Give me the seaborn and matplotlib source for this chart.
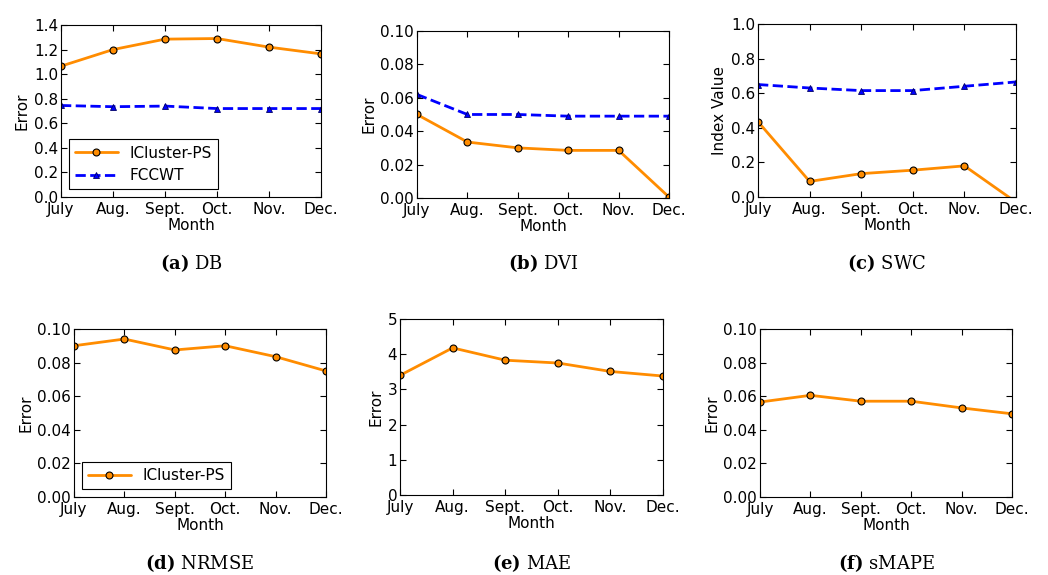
import pandas as pd
import matplotlib
matplotlib.use("Agg")
import matplotlib.pyplot as plt
import seaborn as sns

# data
months = ["July", "Aug.", "Sept.", "Oct.", "Nov.", "Dec."]

db_icluster = [1.065, 1.20, 1.285, 1.29, 1.22, 1.165]
db_fccwt = [0.745, 0.735, 0.74, 0.72, 0.72, 0.72]

dvi_icluster = [0.050, 0.0335, 0.030, 0.0285, 0.0285, 0.0005]
dvi_fccwt = [0.062, 0.050, 0.050, 0.049, 0.049, 0.049]

swc_icluster = [0.435, 0.09, 0.135, 0.155, 0.18, -0.03]
swc_fccwt = [0.65, 0.63, 0.615, 0.615, 0.64, 0.665]

nrmse_icluster = [0.090, 0.094, 0.0875, 0.090, 0.0835, 0.075]
mae_icluster = [3.40, 4.18, 3.83, 3.75, 3.51, 3.38]
smape_icluster = [0.0565, 0.0605, 0.057, 0.057, 0.053, 0.0495]

sns.set_style("ticks", {"xtick.direction": "in", "ytick.direction": "in",
                        "axes.edgecolor": "black"})
plt.rcParams['font.family'] = ['DejaVu Sans']
plt.rcParams['font.size'] = 11
plt.rcParams['xtick.top'] = True
plt.rcParams['ytick.right'] = True
plt.rcParams['text.color'] = 'black'
plt.rcParams['axes.labelcolor'] = 'black'
plt.rcParams['xtick.color'] = 'black'
plt.rcParams['ytick.color'] = 'black'
plt.rcParams['mathtext.fontset'] = 'dejavuserif'

fig = plt.figure(figsize=(10.48, 5.75), dpi=100)

positions = [
    [0.0582, 0.6574, 0.2481, 0.2991],
    [0.3979, 0.6557, 0.2405, 0.2904],
    [0.7233, 0.6574, 0.2462, 0.3009],
    [0.0706, 0.1357, 0.2405, 0.2922],
    [0.3817, 0.1391, 0.2510, 0.3061],
    [0.7252, 0.1357, 0.2405, 0.2922],
]

panels = [
    ("a", "DB", db_icluster, db_fccwt, (0, 1.4), [0, 0.2, 0.4, 0.6, 0.8, 1.0, 1.2, 1.4], "{:.1f}", "Error"),
    ("b", "DVI", dvi_icluster, dvi_fccwt, (0, 0.10), [0, 0.02, 0.04, 0.06, 0.08, 0.10], "{:.2f}", "Error"),
    ("c", "SWC", swc_icluster, swc_fccwt, (0, 1.0), [0, 0.2, 0.4, 0.6, 0.8, 1.0], "{:.1f}", "Index Value"),
    ("d", "NRMSE", nrmse_icluster, None, (0, 0.10), [0, 0.02, 0.04, 0.06, 0.08, 0.10], "{:.2f}", "Error"),
    ("e", "MAE", mae_icluster, None, (0, 5), [0, 1, 2, 3, 4, 5], "{:.0f}", "Error"),
    ("f", "sMAPE", smape_icluster, None, (0, 0.10), [0, 0.02, 0.04, 0.06, 0.08, 0.10], "{:.2f}", "Error"),
]

for pos, (letter, name, ours, fccwt, ylim, yticks, fmt, ylabel) in zip(positions, panels):
    ax = fig.add_axes(pos)
    sns.lineplot(x=months, y=ours, ax=ax, color="darkorange", linewidth=2,
                 marker="o", markersize=5, markeredgecolor="black",
                 markeredgewidth=0.8, markerfacecolor="darkorange",
                 label="ICluster-PS", sort=False)
    if fccwt is not None:
        sns.lineplot(x=months, y=fccwt, ax=ax, color="blue", linewidth=2,
                     linestyle="--", marker="^", markersize=5,
                     markeredgecolor="#000066", markeredgewidth=0.6,
                     markerfacecolor="blue", label="FCCWT", sort=False)
    ax.set_xlim(0, 5)
    ax.set_ylim(*ylim)
    ax.set_yticks(yticks)
    ax.set_yticklabels([fmt.format(v) for v in yticks])
    ax.tick_params(length=4, width=0.8, labelsize=11, pad=2)
    ax.tick_params(axis="x", pad=3.5)
    ax.set_xlabel("Month", fontsize=11, labelpad=1)
    ax.set_ylabel(ylabel, fontsize=11, labelpad=3)
    for s in ax.spines.values():
        s.set_linewidth(0.8)
        s.set_color("black")

    if letter in ("a", "d"):
        leg = ax.legend(loc="lower left", fontsize=11, handlelength=2.8,
                        fancybox=False, borderaxespad=0.5, framealpha=1)
        leg.get_frame().set_edgecolor("black")
        leg.get_frame().set_linewidth(0.8)
    else:
        ax.get_legend().remove()

    cx = pos[0] + pos[2] / 2
    cy = 0.5426 if pos[1] > 0.5 else 0.0209
    fig.text(cx, cy, f"$\\mathbf{{({letter})}}$ {name}", ha="center", va="center",
             fontsize=13, family="DejaVu Serif")

fig.savefig("out.png", dpi=100)
